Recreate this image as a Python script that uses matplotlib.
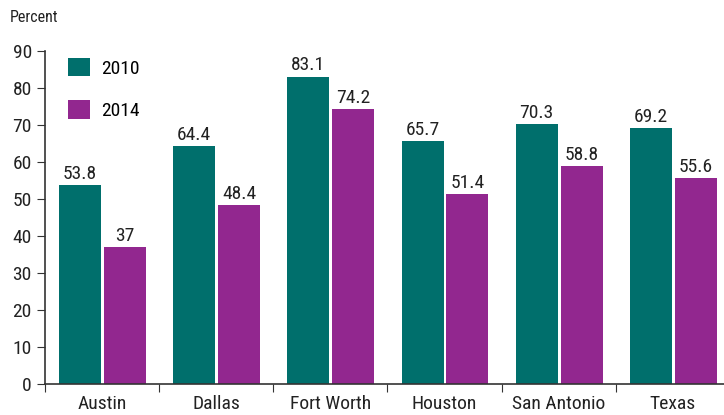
import numpy as np
import matplotlib.pyplot as plt

cities = ['Austin', 'Dallas', 'Fort Worth', 'Houston', 'San Antonio', 'Texas']
y2010 = [53.8, 64.4, 83.1, 65.7, 70.3, 69.2]
y2014 = [37, 48.4, 74.2, 51.4, 58.8, 55.6]

teal = '#006f6c'
purple = '#92278f'
plt.rcParams['font.family'] = ['Roboto Condensed', 'Liberation Sans Narrow', 'Liberation Sans', 'DejaVu Sans']

fig = plt.figure(figsize=(7.24, 4.15), dpi=100)
ax = fig.add_axes([45/724, 31/415, 685/724, 333/415])

x = np.arange(len(cities))
w = 0.368
b1 = ax.bar(x - 0.193, y2010, w, color=teal, label='2010')
b2 = ax.bar(x + 0.2, y2014, w, color=purple, label='2014')

for bars, vals in [(b1, y2010), (b2, y2014)]:
    for r, v in zip(bars, vals):
        ax.annotate(f'{v:g}', (r.get_x() + r.get_width()/2, v), xytext=(0, 1.5),
                    textcoords='offset points', ha='center', va='bottom',
                    fontsize=14, color='#222222')

ax.set_xlim(-0.5, 5.5)
ax.set_ylim(0, 90)
ax.set_yticks(range(0, 91, 10))
ax.set_xticks(np.arange(-0.5, 5.6, 1))
ax.set_xticklabels([])
ax.set_xticks(x, cities, minor=True)
ax.tick_params(axis='x', which='major', length=6, color='#333333')
ax.tick_params(axis='x', which='minor', length=0, labelsize=14, pad=8, labelcolor='#222222')
ax.tick_params(axis='y', length=6, labelsize=14, color='#333333', labelcolor='#222222')

for s in ['top', 'right']:
    ax.spines[s].set_visible(False)
for s in ['left', 'bottom']:
    ax.spines[s].set_color('#333333')
    ax.spines[s].set_linewidth(1.2)

fig.text(10/724, 1 - 17/415, 'Percent', fontsize=11.5, va='center', color='#222222')

ax.legend(frameon=False, loc='upper left', bbox_to_anchor=(0.034, 0.98),
          borderaxespad=0, borderpad=0,
          handlelength=1.1, handleheight=1.1, labelspacing=1.15,
          handletextpad=0.6, fontsize=14)

fig.savefig('out.png', dpi=100)
